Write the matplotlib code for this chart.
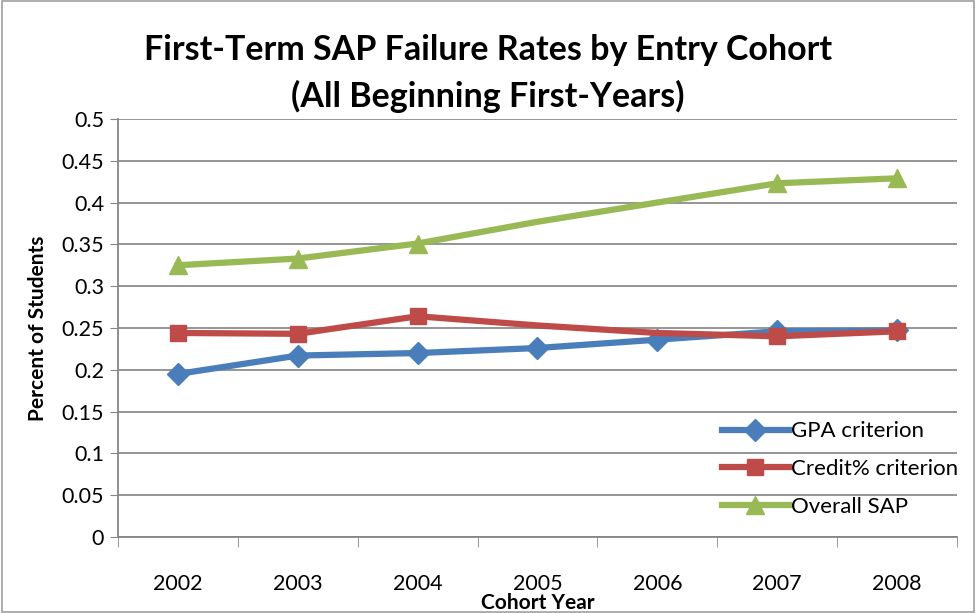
import matplotlib.pyplot as plt
from matplotlib.patches import Rectangle

years = ['2002', '2003', '2004', '2005', '2006', '2007', '2008']
gpa = [0.195, 0.217, 0.220, 0.226, 0.236, 0.246, 0.247]
credit = [0.244, 0.243, 0.264, 0.253, 0.244, 0.240, 0.246]
overall = [0.325, 0.333, 0.351, 0.377, 0.400, 0.423, 0.429]
yticks = [0, 0.05, 0.1, 0.15, 0.2, 0.25, 0.3, 0.35, 0.4, 0.45, 0.5]
ytick_labels = ['0', '0.05', '0.1', '0.15', '0.2', '0.25', '0.3', '0.35', '0.4', '0.45', '0.5']

plt.rcParams['font.family'] = ['Lato', 'DejaVu Sans']

fig = plt.figure(figsize=(9.76, 6.13), dpi=100)
fig.patches.append(Rectangle((0.002, 0.002), 0.996, 0.996, transform=fig.transFigure,
                             fill=False, edgecolor='#a0a0a0', linewidth=1.2))
ax = fig.add_axes([0.1209, 0.124, 0.8596, 0.682])

x = list(range(len(years)))
ax.plot(x, gpa, color='#4a7ebb', linewidth=4.5, marker='D', markersize=11, label='GPA criterion')
ax.plot(x, credit, color='#be4b48', linewidth=4.5, marker='s', markersize=11,
        markevery=[0, 1, 2, 5, 6], label='Credit% criterion')
ax.plot(x, overall, color='#98b954', linewidth=4.5, marker='^', markersize=13,
        markevery=[0, 1, 2, 5, 6], label='Overall SAP')

ax.set_xlim(-0.5, len(years) - 0.5)
ax.set_ylim(0, 0.5)
ax.set_yticks(yticks)
ax.set_yticklabels(ytick_labels)
ax.set_xticks(x)
ax.set_xticklabels(years)
ax.set_xticks([i - 0.5 for i in range(len(years) + 1)], minor=True)
ax.tick_params(axis='x', which='major', length=0, labelsize=15.5, pad=27)
ax.tick_params(axis='x', which='minor', length=7, color='#868686', direction='out')
ax.tick_params(axis='y', length=6, color='#868686', labelsize=15.5, pad=4)

ax.grid(axis='y', color='#8c8c8c', linewidth=1.3)
ax.set_axisbelow(True)
for s in ['top', 'right']:
    ax.spines[s].set_visible(False)
ax.spines['left'].set_color('#868686')
ax.spines['bottom'].set_color('#868686')
ax.spines['left'].set_linewidth(1.3)
ax.spines['bottom'].set_linewidth(1.3)

ax.set_xlabel('Cohort Year', fontsize=15, fontweight='bold', labelpad=-1)
ax.set_ylabel('Percent of Students', fontsize=15, fontweight='bold', labelpad=10)

fig.text(0.5, 0.918, 'First-Term SAP Failure Rates by Entry Cohort', ha='center', va='center',
         fontsize=24.5, fontweight='bold')
fig.text(0.5, 0.842, '(All Beginning First-Years)', ha='center', va='center',
         fontsize=24.5, fontweight='bold')

ax.legend(loc='lower right', bbox_to_anchor=(1.025, 0.0), frameon=False, fontsize=16,
          handlelength=3.0, handletextpad=0.1, labelspacing=0.8)

fig.savefig('out.png', dpi=100)
